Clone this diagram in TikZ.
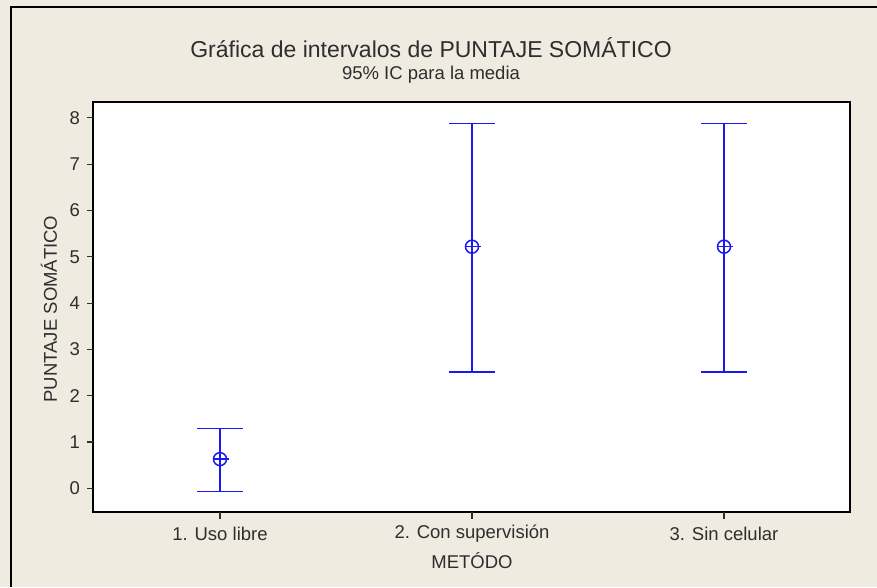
\documentclass[tikz,border=0pt]{standalone}
\usepackage{fontspec}
\setmainfont{Liberation Sans}
\definecolor{bg}{HTML}{EFEBE1}
\definecolor{txt}{HTML}{2E2E2E}
\definecolor{bar}{HTML}{1A1AF0}
\begin{document}
\begin{tikzpicture}[x=1pt,y=-1pt,
  lbl/.style={text=txt,inner sep=0pt,font=\fontsize{18.5}{21}\selectfont},
  frame/.style={draw=black,line width=1.6pt},
  tick/.style={draw=txt,line width=1.1pt},
  ebar/.style={draw=bar,line width=1.5pt},
  meanmark/.style={circle,draw=bar,line width=1.5pt,minimum size=13pt,inner sep=0pt}]
\useasboundingbox (0,0) rectangle (877,587);
\fill[bg] (0,0) rectangle (877,587);
\draw[frame] (11,587) -- (11,7) -- (877,7);
\fill[white] (93,102) rectangle (850,512);
\draw[frame] (93,102) rectangle (850,512);
% title
\node[lbl,font=\fontsize{23}{26}\selectfont] (title) at (431,48) {Gráfica de intervalos de PUNTAJE SOMÁTICO};
\node[lbl] (sub) at (431,75) {95\% IC para la media};
% y ticks
\foreach \v in {0,...,8} {
  \coordinate (ya\v) at (87,{488.3-46.3*\v});
  \coordinate (yb\v) at (93,{488.3-46.3*\v});
  \draw[tick] (ya\v) -- (yb\v);
  \node[lbl,anchor=east] (yl\v) at (80,{488.3-46.3*\v}) {\v};
}
\node[lbl,rotate=90] (ylab) at (49,309) {PUNTAJE SOMÁTICO};
% x ticks
\foreach \i/\x/\t in {1/220/{1. Uso libre},2/472/{2. Con supervisión},3/724/{3. Sin celular}} {
  \coordinate (xa\i) at (\x,512);
  \coordinate (xb\i) at (\x,519);
  \draw[tick] (xa\i) -- (xb\i);
  \node[lbl] (xl\i) at (\x,534) {\t};
}
\node[lbl] (xlab) at (472,561) {METÓDO};
% intervals
\foreach \i/\x/\top/\bot/\m in {1/220/428.6/491.3/459.1,2/472/123.7/372/246.7,3/724/123.7/372/246.7} {
  \coordinate (t\i) at (\x,\top);
  \coordinate (b\i) at (\x,\bot);
  \coordinate (tl\i) at ({\x-23},\top);
  \coordinate (tr\i) at ({\x+23},\top);
  \coordinate (bl\i) at ({\x-23},\bot);
  \coordinate (br\i) at ({\x+23},\bot);
  \draw[ebar] (t\i) -- (b\i);
  \draw[ebar] (tl\i) -- (tr\i);
  \draw[ebar] (bl\i) -- (br\i);
  \node[meanmark] (m\i) at (\x,\m) {};
  \draw[ebar] (m\i.west) -- ([xshift=1.5pt]m\i.east);
}
\end{tikzpicture}
\end{document}
